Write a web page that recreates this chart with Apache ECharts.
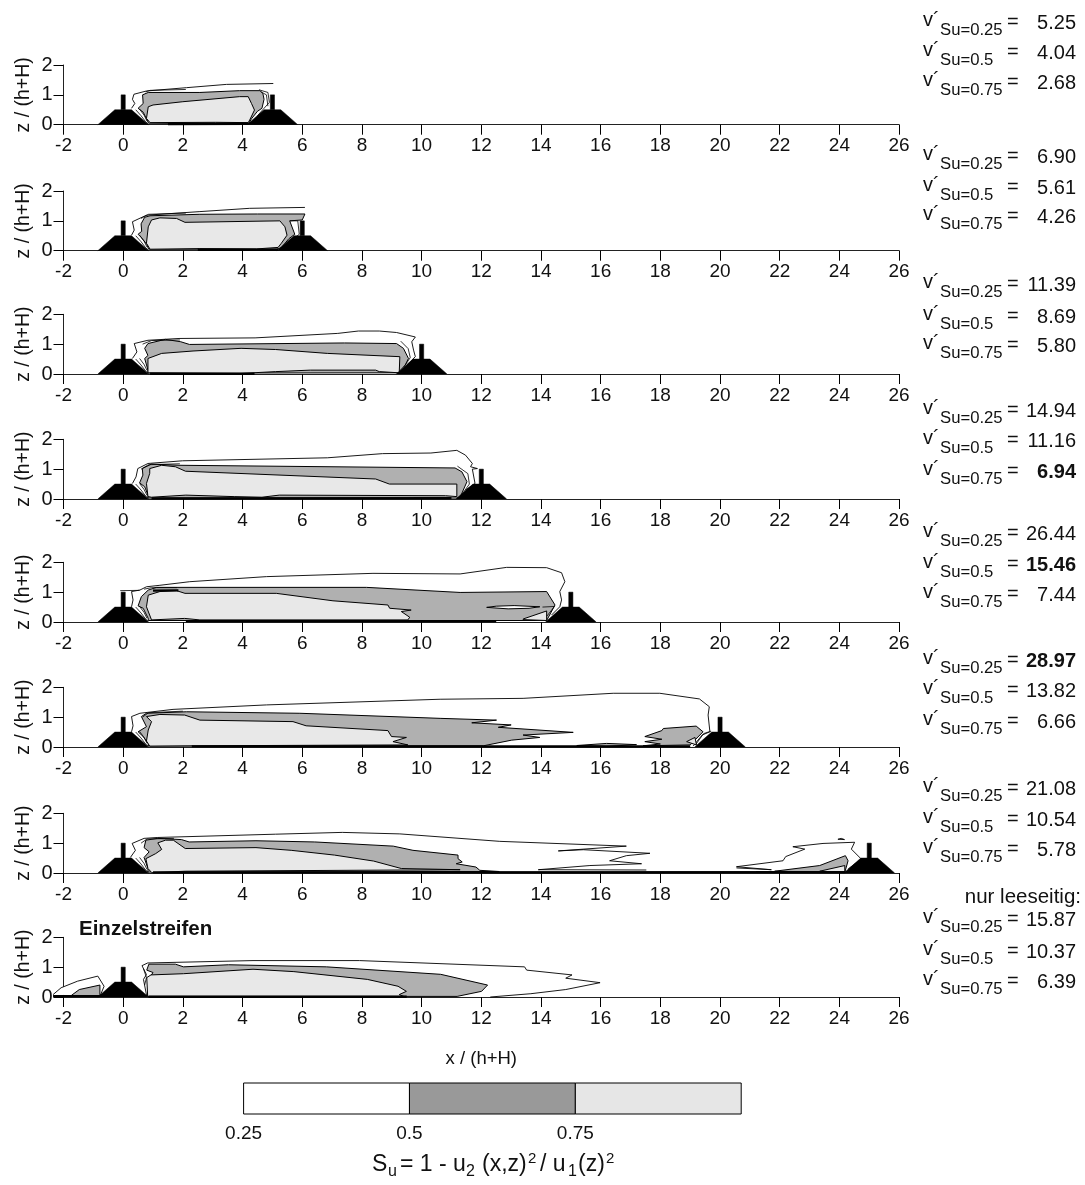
<!DOCTYPE html>
<html><head><meta charset="utf-8">
<style>html,body{margin:0;padding:0;background:#fff}#c{width:1085px;height:1185px}</style>
<script src="https://cdn.jsdelivr.net/npm/echarts@6/dist/echarts.min.js"></script>
</head><body><div id="c"></div>
<script>
const xTicks=[-2,26,2];
const zTicks=[0,2,1];
const panelZeroPx=[124.7,250.7,374,499,622,747,873,997];
const barrierX=[5,6,10,12,15,20,25,null];
const keys=['Su=0.25','Su=0.5','Su=0.75'];
const vValues=[['5.25','4.04','2.68'],['6.90','5.61','4.26'],['11.39','8.69','5.80'],['14.94','11.16','6.94'],['26.44','15.46','7.44'],['28.97','13.82','6.66'],['21.08','10.54','5.78'],['15.87','10.37','6.39']];
const vBold=['3-2','4-1','5-0'];
const vRowPx=[[23,53,83],[157,188,217],[285,317,346],[411,441,472],[534,565,595],[661,691,722],[789,820,850],[920,952,982]];
const legendStops=[0.25,0.5,0.75,1];
const legendColors=['#ffffff','#999999','#e6e6e6'];

const damShape=[[-0.85,0],[-0.28,0.5],[0.28,0.5],[0.85,0]];
const barShape=[[-0.07,0.5],[-0.07,1],[0.07,1],[0.07,0.5]];
const leftSliverA=[[0.42,0.5],[0.6,0.3],[0.75,0.1],[0.84,0.02]];
const leftSliverB=[[0.55,0.52],[0.7,0.32],[0.8,0.12]];

const p1Outer=[[0.28,0.55],[0.39,0.71],[0.31,0.85],[0.36,1.02],[0.78,1.13],[2.12,1.24],[3.46,1.35],[5.03,1.38]];
const p1Mid=[[0.85,0.05],[0.78,0.2],[0.67,0.42],[0.5,0.55],[0.67,0.71],[0.65,1.0],[0.84,1.08],[2.57,1.08],[3.9,1.14],[4.58,1.14],[4.68,1.05],[4.72,0.85],[4.65,0.55],[4.5,0.45],[4.3,0.2],[4.2,0.03],[0.85,0.05]];
const p1Inner=[[0.84,0.6],[1.0,0.66],[2.0,0.77],[3.9,0.94],[4.19,0.94],[4.3,0.71],[4.4,0.49],[4.24,0.16],[4.19,0.07],[3.1,0.08],[0.9,0.07],[0.78,0.21],[0.84,0.6]];
const p1Extra=[[[0.75,1.1],[0.9,1.15],[2.1,1.18]],[[4.55,1.17],[4.85,1.08],[4.9,0.75],[4.72,0.55],[4.5,0.3]],[[4.62,1.1],[4.8,1.0],[4.85,0.62]]];
const p1Base=[[1.5,0.02],[4.2,0.03]];

const p2Outer=[[0.28,0.52],[0.37,0.69],[0.31,0.97],[0.78,1.19],[2.57,1.31],[4.24,1.42],[6.09,1.45]];
const p2Mid=[[0.85,0.05],[0.8,0.2],[0.6,0.45],[0.5,0.55],[0.62,0.65],[0.6,0.9],[0.72,1.12],[0.9,1.17],[2.57,1.22],[4.5,1.23],[6.09,1.23],[6.0,1.03],[5.58,1.0],[5.75,0.55],[5.55,0.4],[5.3,0.1],[5.15,0.05],[0.85,0.05]];
const p2Inner=[[0.84,0.8],[0.95,1.03],[1.23,1.1],[1.79,1.08],[2.07,0.95],[5.25,1.0],[5.42,0.8],[5.49,0.52],[5.3,0.25],[5.19,0.11],[4.47,0.06],[2.57,0.07],[0.9,0.05],[0.78,0.25],[0.84,0.8]];
const p2Extra=[[[0.6,1.08],[0.85,1.22],[2.1,1.26]],[[5.58,1.0],[5.85,1.0],[5.9,0.55],[5.7,0.4]]];
const p2Base=[[2.5,0.03],[5.2,0.03]];

const p3Outer=[[0.31,0.52],[0.46,0.74],[0.37,1.02],[0.83,1.13],[1.87,1.19],[4.42,1.21],[7.19,1.36],[7.88,1.44],[8.58,1.44],[9.16,1.39],[9.79,1.24],[9.67,1.08],[9.73,0.8],[9.79,0.58],[9.5,0.3]];
const p3Mid=[[0.83,0.03],[0.83,0.13],[0.72,0.52],[0.83,0.62],[0.72,0.86],[0.83,1.02],[1.41,1.16],[1.93,1.08],[2.22,0.99],[7.42,1.04],[9.16,1.02],[9.39,0.86],[9.56,0.52],[9.45,0.3],[9.21,0.04],[0.83,0.03]];
const p3Inner=[[0.83,0.52],[1.29,0.69],[2.34,0.77],[3.95,0.86],[5.11,0.82],[6.84,0.69],[9.27,0.58],[9.25,0.04],[8.58,0.08],[8.46,0.13],[6.27,0.13],[5.11,0.08],[3.95,0.02],[0.83,0.04],[0.83,0.52]];
const p3Extra=[[[0.65,1.0],[0.95,1.12],[1.9,1.14]],[[9.3,1.1],[9.55,0.85],[9.62,0.55],[9.4,0.22]]];
const p3Base=[[0.9,0.01],[4.4,0.01]];

const p4Outer=[[0.31,0.52],[0.43,0.74],[0.49,1.02],[0.83,1.19],[1.99,1.28],[6.84,1.38],[8.69,1.52],[10.31,1.54],[11.18,1.63],[11.47,1.47],[11.7,1.19],[11.64,1.08],[11.87,1.02],[11.7,1.0],[11.79,0.52],[11.47,0.3]];
const p4Mid=[[0.83,0.13],[0.72,0.41],[0.55,0.54],[0.66,0.8],[0.64,1.02],[0.95,1.17],[1.87,1.13],[11.12,1.04],[11.35,0.91],[11.52,0.58],[11.3,0.08],[11.18,0.03],[0.83,0.03],[0.83,0.13]];
const p4Inner=[[0.83,0.08],[0.78,0.52],[0.89,0.86],[0.89,1.02],[1.29,1.13],[1.75,1.08],[2.09,0.93],[8.46,0.67],[8.92,0.5],[11.18,0.5],[11.18,0.08],[10.8,0.11],[5.23,0.13],[4.65,0.06],[3.72,0.08],[2.1,0.13],[0.95,0.06],[0.83,0.08]];
const p4Extra=[[[0.6,1.0],[0.85,1.15],[1.9,1.18]],[[11.2,1.1],[11.55,0.85],[11.6,0.5],[11.35,0.15]]];
const p4Base=[[0.95,0.02],[11.0,0.03]];

const p5Outer=[[0.28,0.51],[0.33,0.74],[0.28,1.02],[0.56,1.07],[0.78,1.18],[1.23,1.23],[2.23,1.35],[4.8,1.52],[8.37,1.63],[11.29,1.61],[12.85,1.83],[14.19,1.82],[14.69,1.65],[14.8,1.35],[14.63,1.02],[14.69,0.74],[14.63,0.51],[14.35,0.23]];
const p5Mid=[[0.84,0.12],[0.67,0.46],[0.5,0.54],[0.61,0.85],[0.84,1.07],[1.12,1.16],[8.15,1.16],[11.29,0.99],[14.19,1.02],[14.47,0.57],[14.19,0.05],[0.84,0.05],[0.84,0.12]];
const p5Inner=[[0.78,0.51],[0.84,0.9],[1.23,1.02],[1.79,1.05],[2.07,0.96],[5.13,0.96],[7.03,0.71],[8.87,0.57],[8.93,0.46],[9.65,0.4],[9.32,0.35],[9.6,0.16],[9.54,0.07],[2.57,0.07],[2.06,0.12],[0.95,0.07],[0.78,0.51]];
const p5InnerB=[[13.4,0.1],[14.19,0.37],[14.19,0.05],[13.4,0.08],[13.4,0.1]];
const p5Hole=[[12.18,0.49],[12.5,0.53],[13.1,0.55],[13.96,0.51],[13.6,0.46],[12.9,0.44],[12.18,0.49]];
const p5Extra=[[[-0.1,1.05],[0.55,1.06]],[[0.7,1.1],[0.95,1.15],[1.8,1.15]],[[14.05,0.5],[14.45,0.52],[14.2,0.2]]];
const p5Base=[[2.1,0.03],[12.5,0.03]];
const p5Dark=[[1.0,1.05],[1.85,1.06]];

const p6Outer=[[0.28,0.51],[0.33,0.71],[0.28,1.02],[0.56,1.13],[1.67,1.26],[4.8,1.41],[10.62,1.6],[13.4,1.63],[16.42,1.8],[17.98,1.8],[19.31,1.61],[19.64,1.35],[19.6,1.07],[19.66,0.51],[19.4,0.4],[19.1,0.03]];
const p6Mid=[[0.84,0.12],[0.67,0.35],[0.5,0.51],[0.78,0.68],[0.61,1.02],[0.78,1.13],[2.12,1.18],[5.92,1.13],[10.62,0.96],[12.51,0.9],[11.68,0.81],[13.0,0.74],[12.57,0.66],[15.08,0.49],[13.4,0.4],[13.96,0.32],[13.02,0.23],[12.07,0.04],[0.84,0.03],[0.84,0.12]];
const p6Inner=[[0.84,0.57],[0.95,0.85],[0.78,1.02],[1.23,1.09],[2.06,1.07],[2.57,0.9],[5.69,0.85],[6.13,0.71],[8.87,0.55],[8.99,0.35],[9.49,0.32],[9.04,0.18],[9.54,0.07],[2.34,0.04],[0.89,0.03],[0.78,0.2],[0.84,0.57]];
const p6MidB=[[17.48,0.35],[18.05,0.55],[18.1,0.62],[19.2,0.7],[19.43,0.51],[19.0,0.07],[17.42,0.04],[18.0,0.1],[17.48,0.18],[18.05,0.26],[17.48,0.35]];
const p6MidC=[[15.2,0.05],[16.2,0.12],[17.2,0.08],[16.2,0.02],[15.2,0.05]];
const p6InnerB=[[18.88,0.18],[19.16,0.32],[19.21,0.07],[18.88,0.18]];
const p6Extra=[[[0.65,1.0],[0.85,1.15],[2.0,1.2]],[[19.2,0.1],[19.45,0.45],[19.7,0.53]]];
const p6Base=[[2.3,0.02],[19.0,0.02]];

const p7Outer=[[0.24,0.52],[0.41,0.76],[0.3,0.99],[0.7,1.16],[1.16,1.19],[5.1,1.3],[7.34,1.36],[9.27,1.31],[12.62,1.06],[16.86,0.9],[14.58,0.74],[15.42,0.78],[17.65,0.66],[16.86,0.58],[16.3,0.41],[17.37,0.31],[15.64,0.25],[13.91,0.11],[17.53,0.1]];
const p7OuterB=[[24.29,0.13],[24.73,0.47],[24.4,0.8],[24.51,1.03],[23.45,0.99],[22.44,0.88],[22.84,0.8],[22.2,0.55],[22.11,0.41],[20.55,0.21],[21.72,0.11],[20.55,0.17]];
const p7OuterC=[[23.95,1.13],[24.06,1.16],[24.17,1.12],[23.95,1.13]];
const p7Mid=[[0.83,0.15],[0.7,0.52],[0.87,0.71],[0.7,0.85],[0.76,1.1],[1.16,1.16],[1.95,1.12],[2.21,1.04],[4.45,1.08],[6.42,1.04],[9.05,0.9],[9.71,0.76],[11.22,0.6],[11.22,0.48],[11.36,0.37],[11.16,0.31],[11.82,0.2],[11.95,0.09],[12.6,0.05],[0.83,0.03],[0.83,0.15]];
const p7Inner=[[0.83,0.15],[0.76,0.48],[1.09,0.65],[1.29,0.79],[1.16,1.01],[1.42,1.1],[1.68,1.1],[2.08,0.82],[4.45,0.85],[5.63,0.76],[7.08,0.6],[8.39,0.4],[9.32,0.15],[11.29,0.11],[2.08,0.06],[0.96,0.01],[0.83,0.15]];
const p7MidB=[[21.83,0.06],[23.34,0.25],[24.2,0.58],[24.29,0.41],[24.18,0.02],[21.83,0.06]];
const p7InnerB=[[23.34,0.06],[24.18,0.25],[24.18,0.03],[23.34,0.06]];
const p7Extra=[[[0.6,1.0],[0.8,1.14],[1.7,1.16]]];
const p7Base=[[1.0,0.02],[24.2,0.03]];

const p8Outer=[[0.79,0.02],[0.68,0.59],[0.78,0.75],[0.63,1.05],[0.82,1.14],[4.35,1.22],[7.92,1.22],[13.45,1.01],[13.52,0.9],[15.04,0.74],[14.83,0.63],[15.98,0.48],[14.83,0.25],[13.66,0.11],[12.3,0]];
const p8OuterB=[[-2.35,0.08],[-2.08,0.31],[-1.53,0.53],[-0.85,0.7],[-0.64,0.36],[-0.78,0.02]];
const p8Mid=[[0.82,0.02],[0.85,0.6],[1.0,0.82],[0.79,0.9],[0.86,1.1],[1.75,1.1],[2.02,1.01],[3.53,1.08],[6.81,1.01],[10.64,0.76],[12.21,0.4],[12.01,0.19],[11.19,0.02],[0.82,0.02]];
const p8MidB=[[-1.74,0.05],[-1.47,0.25],[-0.78,0.4],[-0.78,0.05],[-1.74,0.05]];
const p8Inner=[[0.82,0.02],[0.79,0.65],[0.93,0.74],[2.02,0.78],[4.35,0.93],[5.72,0.85],[8.18,0.59],[9.21,0.36],[9.49,0.19],[9.25,0.08],[9.4,0.02],[0.82,0.02]];
const p8Extra=[[[0.68,0.95],[0.78,0.65],[0.72,0.4]]];
const p8Base=[[0.85,0.01],[9.5,0.01]];
const p8BaseB=[[-2.35,0.03],[-0.8,0.03]];

const MID='#b0b0b0',LIGHT='#e8e8e8',WH='#ffffff',BK='#000000';
const panelShapes=[
 [[p1Outer,WH,0.9],[p1Mid,MID,1],[p1Inner,LIGHT,1]],
 [[p2Outer,WH,0.9],[p2Mid,MID,1],[p2Inner,LIGHT,1]],
 [[p3Outer,WH,0.9],[p3Mid,MID,1],[p3Inner,LIGHT,1]],
 [[p4Outer,WH,0.9],[p4Mid,MID,1],[p4Inner,LIGHT,1]],
 [[p5Outer,WH,0.9],[p5Mid,MID,1],[p5Inner,LIGHT,1],[p5InnerB,LIGHT,1],[p5Hole,WH,1]],
 [[p6Outer,WH,0.9],[p6Mid,MID,1],[p6Inner,LIGHT,1],[p6MidB,MID,1],[p6MidC,MID,1],[p6InnerB,LIGHT,1]],
 [[p7Outer,WH,0.9],[p7OuterB,WH,0.9],[p7OuterC,WH,0.9],[p7Mid,MID,1],[p7Inner,LIGHT,1],[p7MidB,MID,1],[p7InnerB,LIGHT,1]],
 [[p8OuterB,WH,0.9],[p8Outer,WH,0.9],[p8Mid,MID,1],[p8Inner,LIGHT,1],[p8MidB,MID,1]]
];
const panelExtras=[p1Extra,p2Extra,p3Extra,p4Extra,p5Extra,p6Extra,p7Extra,p8Extra];
const panelBases=[[p1Base],[p2Base],[p3Base],[p4Base],[p5Base,p5Dark],[p6Base],[p7Base],[p8Base,p8BaseB]];

function poly(gi,pts,fill,stroke,lw){
 return {type:'custom',xAxisIndex:gi,yAxisIndex:gi,coordinateSystem:'cartesian2d',silent:true,animation:false,z:3,
  data:pts,encode:{x:0,y:1},
  renderItem:(p,api)=>p.dataIndex!==0?null:{type:'polyline',shape:{points:pts.map(q=>api.coord(q))},
    style:{fill:fill||'none',stroke:stroke||'none',lineWidth:lw||0}}};
}
const grids=[],xAxes=[],yAxes=[],series=[];
const font='Liberation Sans';
panelZeroPx.forEach((z0,i)=>{
 grids.push({left:63.5,width:835.6,top:z0-59.7,height:59.7});
 xAxes.push({type:'value',gridIndex:i,min:xTicks[0],max:xTicks[1],interval:xTicks[2],
  axisLine:{show:true,onZero:false,lineStyle:{color:'#222',width:1}},
  axisTick:{show:true,length:10,inside:false,lineStyle:{color:'#000',width:1}},
  axisLabel:{show:true,fontSize:19,color:'#111',margin:12,fontFamily:font,showMinLabel:true,showMaxLabel:true},splitLine:{show:false},
  name:i===7?'x / (h+H)':'',nameLocation:'middle',nameGap:52,nameTextStyle:{fontSize:18.5,color:'#111',fontFamily:font}});
 yAxes.push({type:'value',gridIndex:i,min:zTicks[0],max:zTicks[1],interval:zTicks[2],
  axisLine:{show:true,onZero:false,lineStyle:{color:'#222',width:1}},
  axisTick:{show:true,length:10,lineStyle:{color:'#000',width:1}},
  axisLabel:{show:true,fontSize:20,color:'#111',margin:11,fontFamily:font},splitLine:{show:false},
  name:'z / (h+H)',nameLocation:'middle',nameGap:30,nameRotate:90,nameMoveOverlap:false,nameTextStyle:{fontSize:19.5,color:'#111',fontFamily:font}});
 panelShapes[i].forEach(s=>series.push(poly(i,s[0],s[1],BK,s[2])));
 panelExtras[i].forEach(e=>series.push(poly(i,e,null,BK,0.8)));
 panelBases[i].forEach(b=>series.push(poly(i,b,null,BK,2.4)));
 [leftSliverA,leftSliverB].forEach(e=>{ if(i<7) series.push(poly(i,e,null,BK,0.8)); });
 [0,barrierX[i]].forEach(bx=>{
  if(bx===null) return;
  series.push(poly(i,damShape.map(q=>[q[0]+bx,q[1]]),BK,BK,0.5));
  series.push(poly(i,barShape.map(q=>[q[0]+bx,q[1]]),BK,BK,0.5));
 });
});
// colour key
const li=panelZeroPx.length;
grids.push({left:243.6,width:497.6,top:1083,height:31});
xAxes.push({type:'value',gridIndex:li,min:legendStops[0],max:legendStops[3],interval:0.25,
 axisLine:{show:false},axisTick:{show:false},splitLine:{show:false},
 axisLabel:{show:true,fontSize:19,color:'#111',margin:10,fontFamily:font,showMaxLabel:false,showMinLabel:true,formatter:v=>v===1?'':String(v)}});
yAxes.push({type:'value',gridIndex:li,min:0,max:1,show:false});
legendColors.forEach((c,i)=>{
 const a=legendStops[i],b=legendStops[i+1];
 series.push(poly(li,[[a,0],[a,1],[b,1],[b,0],[a,0]],c,BK,1));
});
// text
const gfx=[];
const T=(t,x,y,size,opt={})=>gfx.push({type:'text',x,y,silent:true,style:Object.assign({text:t,fontSize:size,fontFamily:font,fill:'#111',verticalAlign:'middle'},opt)});
vValues.forEach((g,gi)=>g.forEach((v,ri)=>{
 const y=vRowPx[gi][ri];
 T('v´',923,y-3,20);
 T(keys[ri],940,y+7,16.7);
 T('=',1007,y-1,20);
 const b=vBold.includes(gi+'-'+ri);
 T(v,1076,y,20,{align:'right',fontWeight:b?'bold':'normal'});
}));
T('nur leeseitig:',1081,897,20.5,{align:'right'});
T('Einzelstreifen',79,929,20.5,{fontWeight:'bold'});
[['S',372,23],['u',388,16,7],['= 1 - u',400,23],['2',466,16,7],['(x,z)',476,23],['2',522,15,-6],['/ u',534,23],['1',562,16,7],['(z)',572,23],['2',600,15,-6]]
 .forEach(a=>T(a[0],a[1]+(a[1]>=476?6:0),1165+(a[3]||0),a[2]));
const chart=echarts.init(document.getElementById('c'),null,{renderer:'canvas'});
chart.setOption({animation:false,backgroundColor:'#fff',grid:grids,xAxis:xAxes,yAxis:yAxes,series,graphic:gfx,tooltip:{show:false},legend:{show:false}});
</script></body></html>
